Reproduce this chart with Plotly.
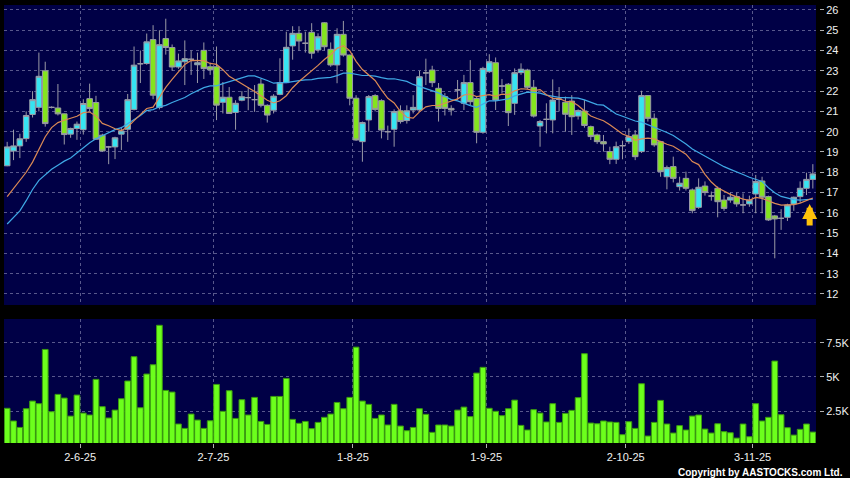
import pandas as pd
import plotly.graph_objects as go

# ---------------- data ----------------
trade_start = "2025-05-15"
trade_end = "2025-11-14"
hk_holidays = ["2025-07-01", "2025-10-01", "2025-10-07", "2025-10-29"]
dates = [d for d in pd.bdate_range(trade_start, trade_end)
         if d.strftime("%Y-%m-%d") not in hk_holidays]

opens = [18.32, 19.05, 19.3, 19.66, 20.85, 21.2, 23.0, 21.2, 21.17, 20.88,
         19.88, 20.16, 20.1, 21.63, 21.44, 19.83, 19.25, 19.25, 19.88, 20.12,
         21.1, 23.35, 23.36, 24.54, 21.19, 24.59, 24.15, 23.19, 23.45, 23.57,
         23.3, 24.01, 23.2, 23.2, 21.45, 21.7, 20.95, 21.55, 21.68, 21.58,
         22.35, 21.3, 21.06, 21.84, 22.42, 24.23, 24.85, 24.36, 24.9, 24.03,
         25.37, 24.06, 23.29, 24.8, 23.78, 21.65, 19.51, 20.58, 21.78, 21.53,
         20.0, 20.12, 21.03, 20.55, 21.07, 21.07, 22.9, 23.04, 22.14, 21.73,
         21.15, 22.06, 21.4, 22.42, 21.64, 19.97, 22.96, 23.4, 22.25, 22.34,
         21.4, 22.91, 23.04, 22.19, 20.28, 20.61, 20.58, 21.6, 21.45, 21.51,
         20.77, 21.02, 20.25, 19.84, 19.51, 19.02, 18.64, 19.31, 19.51, 19.84,
         19.02, 21.78, 20.66, 19.51, 17.78, 18.28, 17.29, 17.7, 17.13, 16.27,
         17.32, 16.83, 17.21, 16.63, 16.63, 16.8, 16.39, 16.44, 16.93, 17.57,
         16.8, 15.85, 15.73, 15.78, 16.44, 16.8, 17.21, 17.65]
highs = [19.5, 20.1, 19.9, 21.0, 22.0, 23.9, 23.45, 21.25, 22.35, 20.9,
         20.2, 20.5, 21.6, 22.37, 21.77, 19.9, 19.3, 19.75, 20.24, 21.86,
         24.2, 24.0, 24.84, 25.25, 25.0, 25.57, 24.3, 23.85, 24.5, 24.0,
         23.9, 24.4, 23.4, 24.2, 22.45, 22.2, 21.55, 22.0, 22.2, 22.3,
         22.6, 21.35, 21.85, 23.62, 24.93, 25.2, 25.2, 24.93, 25.35, 24.85,
         25.4, 24.4, 25.1, 25.46, 23.8, 21.8, 20.5, 21.81, 21.85, 21.6,
         20.3, 21.1, 21.3, 21.3, 21.8, 23.0, 23.6, 23.25, 22.4, 21.9,
         21.3, 22.55, 22.8, 23.53, 21.7, 23.2, 23.82, 23.66, 22.6, 22.4,
         23.12, 23.37, 23.1, 22.55, 20.58, 21.4, 22.58, 22.2, 21.73, 21.8,
         21.1, 21.56, 20.3, 19.9, 19.84, 19.26, 19.51, 19.56, 20.16, 20.08,
         22.02, 21.8, 20.9, 19.55, 18.33, 18.77, 17.78, 18.03, 17.2, 17.7,
         17.55, 17.05, 17.3, 16.88, 17.0, 17.0, 16.96, 16.85, 17.87, 17.78,
         16.85, 15.9, 16.18, 16.45, 16.8, 17.55, 17.98, 18.4]
lows = [18.3, 18.6, 18.7, 19.5, 20.7, 21.0, 20.25, 21.15, 20.8, 19.37,
        19.7, 19.6, 19.86, 21.0, 19.6, 19.0, 18.4, 18.65, 19.1, 19.5,
        21.05, 22.4, 23.3, 21.6, 21.1, 23.8, 23.0, 23.1, 22.3, 22.8,
        22.4, 22.6, 22.8, 20.57, 20.9, 20.9, 20.1, 21.5, 21.06, 20.98,
        21.2, 20.45, 20.9, 21.8, 22.4, 23.55, 24.0, 23.9, 23.6, 23.9,
        24.0, 23.2, 22.39, 23.7, 21.3, 19.55, 18.52, 20.0, 21.0, 19.67,
        19.59, 19.26, 20.4, 20.4, 20.9, 21.0, 22.3, 22.2, 20.5, 20.8,
        20.8, 21.56, 21.07, 21.3, 19.43, 19.9, 22.9, 21.07, 21.9, 20.28,
        20.83, 22.8, 22.1, 20.7, 19.26, 19.92, 19.92, 21.0, 20.0, 19.84,
        20.6, 20.2, 19.59, 19.4, 19.02, 18.4, 18.41, 18.64, 19.4, 18.6,
        18.95, 20.5, 19.26, 17.78, 17.16, 17.5, 17.1, 17.1, 15.98, 16.2,
        16.85, 16.6, 15.78, 16.1, 16.5, 16.3, 15.98, 16.3, 15.98, 15.98,
        15.6, 13.76, 15.16, 15.6, 16.1, 16.5, 16.88, 17.2]
closes = [19.25, 19.3, 19.65, 20.8, 21.58, 22.73, 20.4, 21.2, 20.88, 19.86,
          20.16, 20.37, 21.39, 21.14, 19.63, 19.05, 19.25, 19.7, 20.04, 21.58,
          23.28, 23.35, 24.43, 21.8, 24.29, 24.15, 23.19, 23.49, 23.6, 23.57,
          23.4, 23.11, 23.05, 21.31, 21.7, 20.9, 21.4, 21.72, 21.68, 21.58,
          21.3, 20.82, 21.75, 22.42, 24.16, 24.85, 24.47, 24.36, 23.87, 24.68,
          24.19, 23.29, 24.8, 23.78, 21.65, 19.59, 20.45, 21.73, 21.1, 20.08,
          20.0, 20.99, 20.5, 21.03, 21.2, 22.71, 22.9, 22.42, 21.15, 21.15,
          21.07, 22.06, 22.42, 21.48, 19.97, 23.12, 23.45, 21.56, 22.25, 20.94,
          22.91, 23.08, 22.19, 20.77, 20.5, 20.61, 21.56, 21.6, 20.86, 20.74,
          21.04, 20.31, 19.76, 19.51, 19.4, 18.64, 19.26, 19.31, 19.76, 18.77,
          21.78, 20.66, 19.35, 18.03, 18.23, 17.7, 17.46, 17.21, 16.11, 17.26,
          17.0, 16.83, 16.55, 16.22, 16.77, 16.44, 16.39, 16.63, 17.54, 16.77,
          15.65, 15.7, 15.73, 16.39, 16.77, 17.21, 17.65, 17.92]
volumes = [2700, 1770, 1300, 2670, 3230, 3040, 7010, 2450, 3720, 3450,
           2130, 3670, 2350, 2210, 4820, 2820, 1990, 2570, 3400, 4700,
           6480, 2740, 5210, 5890, 8780, 4010, 3890, 1550, 1230, 2280,
           1840, 1230, 1790, 4450, 2480, 3990, 1960, 3330, 2210, 3500,
           1740, 1520, 3570, 3570, 4890, 1890, 1600, 1740, 1210, 1670,
           2040, 2280, 3130, 2670, 3500, 7180, 3230, 2990, 1960, 2210,
           1480, 2990, 1400, 1060, 1300, 2670, 2260, 940, 1480, 1480,
           1400, 2570, 2790, 2090, 5280, 5700, 2700, 2480, 2160, 2670,
           3300, 1450, 1110, 2600, 2350, 1700, 3040, 1670, 2330, 2550,
           3480, 6700, 1620, 1570, 1770, 1700, 1670, 770, 1720, 1230,
           4500, 670, 1670, 3280, 1550, 890, 1430, 1110, 2130, 2210,
           1180, 890, 1570, 990, 910, 520, 1550, 620, 3040, 1770,
           2040, 6160, 2230, 1280, 740, 1160, 1550, 960]
# moving averages before a full window is available
ma10_head = [16.8, 17.2, 17.6, 18.0, 18.5, 19.15, 19.75, 20.2, 20.45]
ma20_head = [15.45, 15.75, 16.1, 16.6, 17.15, 17.6, 17.9, 18.15, 18.35, 18.55,
             18.7, 18.95, 19.2, 19.45, 19.65, 19.8, 19.95, 20.1, 20.2]

tick_dates = ["2025-06-02", "2025-07-02", "2025-08-01", "2025-09-01", "2025-10-02", "2025-11-03"]
tick_labels = ["2-6-25", "2-7-25", "1-8-25", "1-9-25", "2-10-25", "3-11-25"]
price_ticks = list(range(12, 27))
vol_ticks = [2500, 5000, 7500]
vol_tick_labels = ["2.5K", "5K", "7.5K"]
signal_price = 16.44

# ---------------- derived ----------------
n = len(dates)
x = list(range(n))
cs = pd.Series(closes)
ma10 = cs.rolling(10).mean().tolist()
ma20 = cs.rolling(20).mean().tolist()
ma10[:len(ma10_head)] = ma10_head
ma20[:len(ma20_head)] = ma20_head
date_str = [d.strftime("%Y-%m-%d") for d in dates]
tickvals = [date_str.index(t) - 0.5 for t in tick_dates]

# ---------------- style ----------------
BG = "#000046"
GRID = "#58588c"
WICK = "#9a9aa6"
UP = "#36e4f2"
DOWN = "#84e41e"
FONT = "Liberation Sans, Arial, sans-serif"

fig = go.Figure()
fig.add_trace(go.Candlestick(
    x=x, open=opens, high=highs, low=lows, close=closes,
    increasing=dict(line=dict(color=WICK, width=1), fillcolor=UP),
    decreasing=dict(line=dict(color=WICK, width=1), fillcolor=DOWN),
    whiskerwidth=0, xaxis="x", yaxis="y", showlegend=False, hoverinfo="skip"))
fig.add_trace(go.Scatter(x=x, y=ma20, mode="lines", line=dict(color="#3fa9e6", width=1.2),
                         xaxis="x", yaxis="y", showlegend=False, hoverinfo="skip"))
fig.add_trace(go.Scatter(x=x, y=ma10, mode="lines", line=dict(color="#dc8a55", width=1.2),
                         xaxis="x", yaxis="y", showlegend=False, hoverinfo="skip"))
fig.add_trace(go.Bar(x=x, y=volumes, xaxis="x2", yaxis="y2", showlegend=False,
                     marker=dict(color="#6cff1c", line=dict(color="#3b9a10", width=1)),
                     hoverinfo="skip"))

xdom = [0, 812 / 815]
common_x = dict(domain=xdom, range=[-0.5, n - 0.5], showgrid=True, gridcolor=GRID,
                griddash="3px,3px", gridwidth=1, zeroline=False, showline=False,
                tickvals=tickvals)
common_y = dict(anchor="free", position=1, side="right", showgrid=True, gridcolor=GRID,
                griddash="3px,3px", gridwidth=1, zeroline=False, showline=False,
                ticks="outside", ticklen=4, tickcolor="#b0b0b0", tickwidth=1,
                tickfont=dict(color="#f0f0f0", size=11, family=FONT))

fig.update_layout(
    width=850, height=478,
    margin=dict(l=4, r=31, t=5, b=35, autoexpand=False),
    paper_bgcolor="black", plot_bgcolor=BG,
    showlegend=False, bargap=0.1, boxgap=0.12, boxgroupgap=0,
    xaxis=dict(anchor="y", showticklabels=False, ticks="",
               rangeslider=dict(visible=False), **common_x),
    xaxis2=dict(anchor="y2", matches="x", ticktext=tick_labels, ticks="outside",
                ticklen=4, tickcolor="#b0b0b0",
                tickfont=dict(color="#f0f0f0", size=11, family=FONT), **common_x),
    yaxis=dict(domain=[0.3151, 1], range=[11.458, 26.246], tickvals=price_ticks,
               ticktext=[str(v) for v in price_ticks], **common_y),
    yaxis2=dict(domain=[0, 0.2831], range=[160, 9240], tickvals=vol_ticks,
                ticktext=vol_tick_labels, **common_y),
)

fig.add_annotation(x=n - 1.5, y=signal_price, xref="x", yref="y", text="",
                   showarrow=True, ax=0, ay=23, arrowhead=2, arrowsize=0.5,
                   arrowwidth=6, arrowcolor="#ffc20a", standoff=0)
fig.add_annotation(x=(845 - 4) / 815, y=(443 - 472) / 438, xref="paper", yref="paper",
                   text="<b>Copyright by AASTOCKS.com Ltd.</b>", showarrow=False,
                   xanchor="right", yanchor="middle",
                   font=dict(color="white", size=10, family=FONT))

fig.write_html("out.html", config={"displayModeBar": False},
               post_script="document.body.style.margin='0px';document.body.style.overflow='hidden';")
